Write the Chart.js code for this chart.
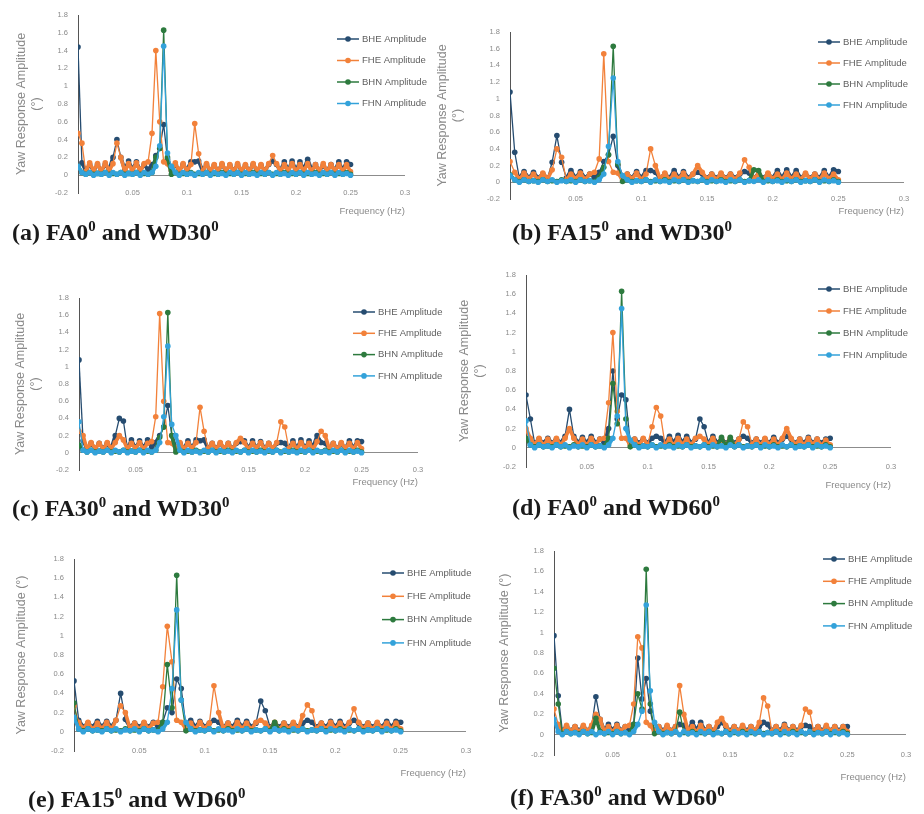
<!DOCTYPE html>
<html>
<head>
<meta charset="utf-8">
<title>Yaw response spectra</title>
<script src="https://cdn.jsdelivr.net/npm/chart.js@4.4.1/dist/chart.umd.min.js"></script>
<style>
  body { margin: 0; background: #fff; }
  #fig { position: relative; width: 924px; height: 814px; overflow: hidden; }
  #fig canvas { position: absolute; }
  .cap { position: absolute; font: bold 24px "Liberation Serif", "Times New Roman", serif; color: #1a1a1a; white-space: nowrap; line-height: 26px; }
  .cap sup { font-size: 62%; vertical-align: 0.6em; line-height: 0; }
</style>
</head>
<body>
<div id="fig">
  <canvas id="fa0-wd30" width="460" height="222" style="left:0;top:0"></canvas>
  <canvas id="fa15-wd30" width="499" height="222" style="left:425px;top:0"></canvas>
  <canvas id="fa30-wd30" width="460" height="250" style="left:0;top:250px"></canvas>
  <canvas id="fa0-wd60" width="484" height="250" style="left:440px;top:250px"></canvas>
  <canvas id="fa15-wd60" width="500" height="270" style="left:0;top:520px"></canvas>
  <canvas id="fa30-wd60" width="444" height="270" style="left:480px;top:520px"></canvas>

  <div class="cap" style="left:12px;top:219px">(a) FA0<sup>0</sup> and WD30<sup>0</sup></div>
  <div class="cap" style="left:512px;top:219px">(b) FA15<sup>0</sup> and WD30<sup>0</sup></div>
  <div class="cap" style="left:12px;top:495px">(c) FA30<sup>0</sup> and WD30<sup>0</sup></div>
  <div class="cap" style="left:512px;top:494px">(d) FA0<sup>0</sup> and WD60<sup>0</sup></div>
  <div class="cap" style="left:28px;top:786px">(e) FA15<sup>0</sup> and WD60<sup>0</sup></div>
  <div class="cap" style="left:510px;top:784px">(f) FA30<sup>0</sup> and WD60<sup>0</sup></div>
</div>
<script>
// frequency bins (Hz), shared by every spectrum
const freq = [
  0, 0.0036, 0.0071, 0.0107, 0.0143, 0.0179, 0.0214, 0.025, 0.0286, 0.0321,
  0.0357, 0.0393, 0.0429, 0.0464, 0.05, 0.0536, 0.0571, 0.0607, 0.0643, 0.0679,
  0.0714, 0.075, 0.0786, 0.0821, 0.0857, 0.0893, 0.0929, 0.0964, 0.1, 0.1036,
  0.1071, 0.1107, 0.1143, 0.1179, 0.1214, 0.125, 0.1286, 0.1321, 0.1357, 0.1393,
  0.1429, 0.1464, 0.15, 0.1536, 0.1571, 0.1607, 0.1643, 0.1679, 0.1714, 0.175,
  0.1786, 0.1821, 0.1857, 0.1893, 0.1929, 0.1964, 0.2, 0.2036, 0.2071, 0.2107,
  0.2143, 0.2179, 0.2214, 0.225, 0.2286, 0.2321, 0.2357, 0.2393, 0.2429, 0.2464,
  0.25
];

// (a) FA0 / WD30
const bheA = [
  1.44, 0.14, 0.05, 0.12, 0.05, 0.12, 0.05, 0.12, 0.06, 0.2,
  0.4, 0.2, 0.06, 0.16, 0.06, 0.15, 0.05, 0.12, 0.06, 0.12,
  0.22, 0.3, 0.57, 0.18, 0.05, 0.12, 0.05, 0.12, 0.06, 0.15,
  0.15, 0.16, 0.05, 0.12, 0.05, 0.11, 0.05, 0.12, 0.05, 0.11,
  0.05, 0.12, 0.05, 0.11, 0.05, 0.12, 0.05, 0.11, 0.05, 0.12,
  0.16, 0.12, 0.05, 0.15, 0.05, 0.16, 0.05, 0.15, 0.06, 0.18,
  0.06, 0.12, 0.05, 0.11, 0.05, 0.12, 0.05, 0.15, 0.05, 0.15,
  0.12
];
const fheA = [
  0.47, 0.36, 0.04, 0.14, 0.05, 0.13, 0.04, 0.14, 0.05, 0.13,
  0.36, 0.2, 0.04, 0.13, 0.05, 0.14, 0.04, 0.13, 0.15, 0.47,
  1.4, 0.6, 0.15, 0.13, 0.05, 0.14, 0.04, 0.13, 0.05, 0.12,
  0.58, 0.24, 0.04, 0.13, 0.05, 0.12, 0.04, 0.13, 0.05, 0.12,
  0.04, 0.13, 0.05, 0.12, 0.04, 0.13, 0.05, 0.12, 0.04, 0.13,
  0.22, 0.13, 0.04, 0.12, 0.05, 0.13, 0.04, 0.12, 0.05, 0.13,
  0.04, 0.12, 0.05, 0.13, 0.04, 0.12, 0.05, 0.12, 0.04, 0.12,
  0.04
];
const bhnA = [
  0.1, 0.03, 0.01, 0.03, 0.01, 0.02, 0.01, 0.03, 0.01, 0.02,
  0.01, 0.03, 0.01, 0.02, 0.01, 0.03, 0.01, 0.02, 0.01, 0.03,
  0.2, 0.3, 1.63, 0.2, 0.01, 0.03, 0.01, 0.02, 0.01, 0.03,
  0.01, 0.02, 0.01, 0.03, 0.01, 0.02, 0.01, 0.03, 0.01, 0.02,
  0.01, 0.03, 0.01, 0.02, 0.01, 0.03, 0.01, 0.02, 0.01, 0.03,
  0.01, 0.02, 0.01, 0.03, 0.01, 0.02, 0.01, 0.03, 0.01, 0.02,
  0.01, 0.03, 0.01, 0.02, 0.01, 0.03, 0.01, 0.02, 0.01, 0.03,
  0.01
];
const fhnA = [
  0.1, 0.03, 0.01, 0.03, 0, 0.02, 0.01, 0.03, 0, 0.03,
  0.01, 0.03, 0, 0.02, 0.01, 0.03, 0, 0.03, 0.01, 0.03,
  0.1, 0.33, 1.45, 0.25, 0.1, 0.03, 0, 0.03, 0.01, 0.02,
  0, 0.03, 0.01, 0.03, 0, 0.03, 0.01, 0.02, 0, 0.03,
  0.01, 0.03, 0, 0.03, 0.01, 0.02, 0, 0.03, 0.01, 0.03,
  0, 0.03, 0.01, 0.02, 0, 0.03, 0.01, 0.03, 0, 0.03,
  0.01, 0.02, 0, 0.03, 0.01, 0.03, 0, 0.03, 0.01, 0.02,
  0
];

// (b) FA15 / WD30
const bheB = [
  1.08, 0.36, 0.05, 0.13, 0.05, 0.12, 0.05, 0.1, 0.05, 0.24,
  0.56, 0.24, 0.05, 0.14, 0.05, 0.13, 0.05, 0.1, 0.06, 0.12,
  0.25, 0.33, 0.55, 0.2, 0.05, 0.1, 0.05, 0.13, 0.05, 0.14,
  0.14, 0.12, 0.05, 0.1, 0.05, 0.14, 0.05, 0.13, 0.05, 0.1,
  0.12, 0.1, 0.05, 0.1, 0.05, 0.1, 0.05, 0.1, 0.05, 0.1,
  0.13, 0.11, 0.05, 0.1, 0.05, 0.1, 0.05, 0.14, 0.05, 0.15,
  0.05, 0.14, 0.05, 0.1, 0.05, 0.1, 0.05, 0.14, 0.05, 0.15,
  0.13
];
const fheB = [
  0.25, 0.12, 0.03, 0.11, 0.04, 0.1, 0.03, 0.11, 0.04, 0.15,
  0.4, 0.3, 0.03, 0.1, 0.04, 0.11, 0.03, 0.1, 0.12, 0.28,
  1.54, 0.25, 0.12, 0.11, 0.03, 0.1, 0.04, 0.11, 0.03, 0.1,
  0.4, 0.2, 0.04, 0.11, 0.03, 0.1, 0.04, 0.11, 0.03, 0.1,
  0.2, 0.12, 0.04, 0.1, 0.03, 0.11, 0.04, 0.1, 0.03, 0.11,
  0.27, 0.18, 0.04, 0.1, 0.03, 0.11, 0.04, 0.1, 0.03, 0.11,
  0.04, 0.1, 0.03, 0.11, 0.04, 0.1, 0.03, 0.11, 0.04, 0.1,
  0.03
];
const bhnB = [
  0.09, 0.03, 0.01, 0.03, 0.01, 0.02, 0.01, 0.03, 0.01, 0.02,
  0.01, 0.03, 0.01, 0.02, 0.01, 0.03, 0.01, 0.02, 0.01, 0.06,
  0.18, 0.33, 1.63, 0.22, 0.01, 0.03, 0.01, 0.02, 0.01, 0.03,
  0.01, 0.02, 0.01, 0.03, 0.01, 0.02, 0.01, 0.03, 0.01, 0.02,
  0.01, 0.03, 0.01, 0.02, 0.01, 0.03, 0.01, 0.02, 0.01, 0.03,
  0.01, 0.02, 0.15, 0.14, 0.01, 0.02, 0.01, 0.03, 0.01, 0.02,
  0.01, 0.03, 0.01, 0.02, 0.01, 0.03, 0.01, 0.02, 0.01, 0.03,
  0.01
];
const fhnB = [
  0.08, 0.03, 0, 0.03, 0.01, 0.02, 0, 0.03, 0.01, 0.03,
  0, 0.02, 0.01, 0.03, 0, 0.03, 0.01, 0.02, 0, 0.03,
  0.1, 0.43, 1.25, 0.25, 0.08, 0.03, 0, 0.02, 0.01, 0.03,
  0, 0.03, 0.01, 0.02, 0, 0.03, 0.01, 0.03, 0, 0.02,
  0.01, 0.03, 0, 0.03, 0.01, 0.02, 0, 0.03, 0.01, 0.03,
  0, 0.02, 0.01, 0.03, 0, 0.03, 0.01, 0.02, 0, 0.03,
  0.01, 0.03, 0, 0.02, 0.01, 0.03, 0, 0.03, 0.01, 0.02,
  0
];

// (c) FA30 / WD30
const bheC = [
  1.08, 0.14, 0.05, 0.11, 0.05, 0.11, 0.05, 0.11, 0.05, 0.2,
  0.4, 0.37, 0.05, 0.15, 0.05, 0.14, 0.05, 0.15, 0.06, 0.12,
  0.2, 0.3, 0.55, 0.2, 0.05, 0.11, 0.05, 0.14, 0.05, 0.15,
  0.14, 0.15, 0.05, 0.11, 0.05, 0.11, 0.05, 0.11, 0.05, 0.11,
  0.13, 0.14, 0.05, 0.14, 0.05, 0.13, 0.05, 0.11, 0.05, 0.11,
  0.12, 0.11, 0.05, 0.14, 0.05, 0.15, 0.05, 0.14, 0.06, 0.2,
  0.12, 0.11, 0.05, 0.11, 0.05, 0.11, 0.05, 0.14, 0.05, 0.14,
  0.13
];
const fheC = [
  0.25, 0.2, 0.04, 0.12, 0.05, 0.11, 0.04, 0.12, 0.05, 0.12,
  0.2, 0.15, 0.04, 0.11, 0.05, 0.12, 0.04, 0.11, 0.13, 0.42,
  1.62, 0.6, 0.12, 0.11, 0.05, 0.12, 0.04, 0.11, 0.05, 0.12,
  0.53, 0.25, 0.05, 0.11, 0.04, 0.12, 0.05, 0.11, 0.04, 0.12,
  0.17, 0.12, 0.04, 0.11, 0.05, 0.12, 0.04, 0.11, 0.05, 0.12,
  0.36, 0.3, 0.05, 0.11, 0.04, 0.12, 0.05, 0.11, 0.04, 0.13,
  0.25, 0.2, 0.05, 0.11, 0.04, 0.12, 0.05, 0.11, 0.04, 0.12,
  0.05
];
const bhnC = [
  0.09, 0.03, 0.01, 0.03, 0.01, 0.02, 0.01, 0.03, 0.01, 0.02,
  0.01, 0.03, 0.01, 0.02, 0.01, 0.03, 0.01, 0.02, 0.01, 0.03,
  0.18, 0.3, 1.63, 0.2, 0.01, 0.03, 0.01, 0.02, 0.01, 0.03,
  0.01, 0.02, 0.01, 0.03, 0.01, 0.02, 0.01, 0.03, 0.01, 0.02,
  0.01, 0.03, 0.01, 0.02, 0.01, 0.03, 0.01, 0.02, 0.01, 0.03,
  0.01, 0.02, 0.01, 0.03, 0.01, 0.02, 0.01, 0.03, 0.01, 0.02,
  0.01, 0.03, 0.01, 0.02, 0.01, 0.03, 0.01, 0.02, 0.01, 0.03,
  0.01
];
const fhnC = [
  0.36, 0.03, 0.01, 0.03, 0, 0.02, 0.01, 0.03, 0, 0.03,
  0.01, 0.03, 0, 0.02, 0.01, 0.03, 0, 0.03, 0.01, 0.03,
  0.12, 0.42, 1.24, 0.33, 0.2, 0.03, 0, 0.03, 0.01, 0.02,
  0, 0.03, 0.01, 0.03, 0, 0.03, 0.01, 0.02, 0, 0.03,
  0.01, 0.03, 0, 0.03, 0.01, 0.02, 0, 0.03, 0.01, 0.03,
  0, 0.03, 0.01, 0.02, 0, 0.03, 0.01, 0.03, 0, 0.03,
  0.01, 0.02, 0, 0.03, 0.01, 0.03, 0, 0.03, 0.01, 0.02,
  0
];

// (d) FA0 / WD60
const bheD = [
  0.55, 0.3, 0.05, 0.09, 0.05, 0.1, 0.05, 0.09, 0.05, 0.12,
  0.4, 0.12, 0.05, 0.11, 0.05, 0.12, 0.05, 0.09, 0.05, 0.2,
  0.8, 0.3, 0.55, 0.5, 0.05, 0.09, 0.05, 0.09, 0.05, 0.1,
  0.12, 0.1, 0.05, 0.12, 0.05, 0.13, 0.05, 0.12, 0.05, 0.09,
  0.3, 0.22, 0.05, 0.12, 0.05, 0.09, 0.05, 0.09, 0.05, 0.09,
  0.12, 0.1, 0.05, 0.09, 0.05, 0.09, 0.05, 0.11, 0.05, 0.09,
  0.12, 0.09, 0.05, 0.09, 0.05, 0.11, 0.05, 0.09, 0.05, 0.09,
  0.1
];
const fheD = [
  0.2, 0.1, 0.03, 0.1, 0.02, 0.09, 0.03, 0.1, 0.02, 0.1,
  0.2, 0.1, 0.03, 0.09, 0.02, 0.1, 0.03, 0.09, 0.1, 0.47,
  1.2, 0.38, 0.1, 0.1, 0.03, 0.09, 0.02, 0.1, 0.03, 0.22,
  0.42, 0.33, 0.03, 0.09, 0.02, 0.1, 0.03, 0.09, 0.02, 0.1,
  0.12, 0.09, 0.03, 0.1, 0.02, 0.09, 0.03, 0.1, 0.02, 0.09,
  0.27, 0.22, 0.03, 0.09, 0.02, 0.1, 0.03, 0.09, 0.02, 0.1,
  0.2, 0.1, 0.03, 0.09, 0.02, 0.1, 0.03, 0.09, 0.02, 0.08,
  0.03
];
const bhnD = [
  0.1, 0.03, 0.01, 0.03, 0.01, 0.02, 0.01, 0.03, 0.01, 0.02,
  0.01, 0.03, 0.01, 0.02, 0.01, 0.03, 0.01, 0.02, 0.01, 0.1,
  0.67, 0.25, 1.63, 0.3, 0.01, 0.03, 0.01, 0.02, 0.01, 0.03,
  0.01, 0.02, 0.01, 0.03, 0.01, 0.02, 0.01, 0.03, 0.01, 0.02,
  0.01, 0.03, 0.01, 0.02, 0.01, 0.11, 0.01, 0.11, 0.01, 0.03,
  0.01, 0.02, 0.01, 0.03, 0.01, 0.02, 0.01, 0.03, 0.01, 0.02,
  0.01, 0.03, 0.01, 0.02, 0.01, 0.03, 0.01, 0.02, 0.01, 0.03,
  0.01
];
const fhnD = [
  0.28, 0.03, 0, 0.03, 0.01, 0.02, 0, 0.03, 0.01, 0.03,
  0, 0.02, 0.01, 0.03, 0, 0.03, 0.01, 0.02, 0, 0.03,
  0.1, 0.33, 1.45, 0.2, 0.08, 0.03, 0, 0.02, 0.01, 0.03,
  0, 0.03, 0.01, 0.02, 0, 0.03, 0.01, 0.03, 0, 0.02,
  0.01, 0.03, 0, 0.03, 0.01, 0.02, 0, 0.03, 0.01, 0.03,
  0, 0.02, 0.01, 0.03, 0, 0.03, 0.01, 0.02, 0, 0.03,
  0.01, 0.03, 0, 0.02, 0.01, 0.03, 0, 0.03, 0.01, 0.02,
  0
];

// (e) FA15 / WD60
const bheE = [
  0.53, 0.12, 0.05, 0.09, 0.05, 0.11, 0.05, 0.11, 0.05, 0.12,
  0.4, 0.13, 0.05, 0.09, 0.05, 0.09, 0.05, 0.1, 0.05, 0.1,
  0.25, 0.2, 0.55, 0.45, 0.05, 0.12, 0.05, 0.11, 0.05, 0.09,
  0.12, 0.1, 0.05, 0.09, 0.05, 0.12, 0.05, 0.11, 0.05, 0.09,
  0.32, 0.22, 0.05, 0.09, 0.05, 0.09, 0.05, 0.09, 0.05, 0.09,
  0.12, 0.1, 0.05, 0.09, 0.05, 0.11, 0.05, 0.11, 0.05, 0.09,
  0.12, 0.09, 0.05, 0.09, 0.05, 0.09, 0.05, 0.11, 0.05, 0.11,
  0.1
];
const fheE = [
  0.27, 0.1, 0.03, 0.1, 0.02, 0.09, 0.03, 0.1, 0.02, 0.12,
  0.27, 0.2, 0.03, 0.09, 0.02, 0.1, 0.03, 0.09, 0.1, 0.47,
  1.1, 0.73, 0.12, 0.1, 0.03, 0.09, 0.02, 0.1, 0.03, 0.09,
  0.48, 0.2, 0.03, 0.09, 0.02, 0.1, 0.03, 0.09, 0.02, 0.1,
  0.12, 0.09, 0.03, 0.1, 0.02, 0.09, 0.03, 0.1, 0.02, 0.17,
  0.28, 0.22, 0.03, 0.09, 0.02, 0.1, 0.03, 0.09, 0.02, 0.1,
  0.24, 0.1, 0.03, 0.09, 0.02, 0.1, 0.03, 0.09, 0.02, 0.09,
  0.03
];
const bhnE = [
  0.3, 0.03, 0.01, 0.03, 0.01, 0.02, 0.01, 0.03, 0.01, 0.02,
  0.01, 0.03, 0.01, 0.02, 0.01, 0.03, 0.01, 0.02, 0.01, 0.1,
  0.7, 0.25, 1.63, 0.33, 0.01, 0.03, 0.01, 0.02, 0.01, 0.03,
  0.01, 0.02, 0.01, 0.03, 0.01, 0.02, 0.01, 0.03, 0.01, 0.02,
  0.01, 0.03, 0.01, 0.1, 0.01, 0.03, 0.01, 0.02, 0.01, 0.03,
  0.01, 0.02, 0.01, 0.03, 0.01, 0.02, 0.01, 0.03, 0.01, 0.02,
  0.01, 0.03, 0.01, 0.02, 0.01, 0.03, 0.01, 0.02, 0.01, 0.03,
  0.01
];
const fhnE = [
  0.15, 0.03, 0, 0.03, 0.01, 0.02, 0, 0.03, 0.01, 0.03,
  0, 0.02, 0.01, 0.03, 0, 0.03, 0.01, 0.02, 0, 0.03,
  0.1, 0.45, 1.27, 0.33, 0.1, 0.03, 0, 0.02, 0.01, 0.03,
  0, 0.03, 0.01, 0.02, 0, 0.03, 0.01, 0.03, 0, 0.02,
  0.01, 0.03, 0, 0.03, 0.01, 0.02, 0, 0.03, 0.01, 0.03,
  0, 0.02, 0.01, 0.03, 0, 0.03, 0.01, 0.02, 0, 0.03,
  0.01, 0.03, 0, 0.02, 0.01, 0.03, 0, 0.03, 0.01, 0.02,
  0
];

// (f) FA30 / WD60
const bheF = [
  0.97, 0.38, 0.04, 0.08, 0.04, 0.08, 0.04, 0.08, 0.04, 0.08,
  0.37, 0.15, 0.04, 0.1, 0.04, 0.1, 0.04, 0.08, 0.04, 0.1,
  0.75, 0.35, 0.55, 0.23, 0.04, 0.08, 0.04, 0.08, 0.04, 0.08,
  0.1, 0.09, 0.04, 0.12, 0.04, 0.12, 0.04, 0.08, 0.04, 0.08,
  0.12, 0.08, 0.04, 0.08, 0.04, 0.08, 0.04, 0.08, 0.04, 0.08,
  0.12, 0.1, 0.04, 0.08, 0.04, 0.1, 0.04, 0.08, 0.04, 0.08,
  0.09, 0.08, 0.04, 0.08, 0.04, 0.08, 0.04, 0.08, 0.04, 0.08,
  0.08
];
const fheF = [
  0.25, 0.1, 0.02, 0.09, 0.03, 0.08, 0.02, 0.09, 0.03, 0.09,
  0.2, 0.15, 0.03, 0.08, 0.02, 0.09, 0.03, 0.08, 0.09, 0.3,
  0.96, 0.85, 0.12, 0.09, 0.03, 0.08, 0.02, 0.09, 0.03, 0.08,
  0.48, 0.2, 0.03, 0.08, 0.02, 0.09, 0.03, 0.08, 0.02, 0.12,
  0.16, 0.09, 0.02, 0.08, 0.03, 0.09, 0.02, 0.08, 0.03, 0.12,
  0.36, 0.28, 0.03, 0.08, 0.02, 0.09, 0.03, 0.08, 0.02, 0.09,
  0.25, 0.22, 0.03, 0.08, 0.02, 0.09, 0.03, 0.08, 0.02, 0.08,
  0.03
];
const bhnF = [
  0.65, 0.3, 0.01, 0.03, 0.01, 0.02, 0.01, 0.03, 0.01, 0.02,
  0.16, 0.03, 0.01, 0.02, 0.01, 0.03, 0.01, 0.02, 0.01, 0.1,
  0.4, 0.25, 1.62, 0.3, 0.01, 0.03, 0.01, 0.02, 0.01, 0.03,
  0.22, 0.02, 0.01, 0.03, 0.01, 0.02, 0.01, 0.03, 0.01, 0.02,
  0.01, 0.03, 0.01, 0.02, 0.01, 0.03, 0.01, 0.02, 0.01, 0.03,
  0.01, 0.02, 0.01, 0.03, 0.01, 0.02, 0.01, 0.03, 0.01, 0.02,
  0.01, 0.03, 0.01, 0.02, 0.01, 0.03, 0.01, 0.02, 0.01, 0.03,
  0.01
];
const fhnF = [
  0.15, 0.03, 0, 0.03, 0.01, 0.02, 0, 0.03, 0.01, 0.03,
  0, 0.02, 0.01, 0.03, 0, 0.03, 0.01, 0.02, 0, 0.03,
  0.1, 0.23, 1.27, 0.43, 0.12, 0.03, 0, 0.02, 0.01, 0.03,
  0, 0.03, 0.01, 0.02, 0, 0.03, 0.01, 0.03, 0, 0.02,
  0.01, 0.03, 0, 0.03, 0.01, 0.02, 0, 0.03, 0.01, 0.03,
  0, 0.02, 0.01, 0.03, 0, 0.03, 0.01, 0.02, 0, 0.03,
  0.01, 0.03, 0, 0.02, 0.01, 0.03, 0, 0.03, 0.01, 0.02,
  0
];

const seriesNames = ['BHE Amplitude', 'FHE Amplitude', 'BHN Amplitude', 'FHN Amplitude'];
const seriesColors = ['#264C70', '#F2813A', '#2D7A3E', '#33A2DA'];
const axisFont = 'Liberation Sans';
const grey = '#8a8a8a';

// legend laid over the empty top-right of the plot, Excel style
const sideLegend = {
  id: 'sideLegend',
  afterDraw(chart, args, opts) {
    const ctx = chart.ctx;
    ctx.save();
    ctx.font = '9.5px "' + axisFont + '"';
    ctx.textBaseline = 'middle';
    chart.data.datasets.forEach((ds, i) => {
      const y = opts.y + i * opts.gap;
      ctx.strokeStyle = ds.borderColor;
      ctx.lineWidth = 1.5;
      ctx.beginPath();
      ctx.moveTo(opts.x, y);
      ctx.lineTo(opts.x + 22, y);
      ctx.stroke();
      ctx.fillStyle = ds.borderColor;
      ctx.beginPath();
      ctx.arc(opts.x + 11, y, 2.8, 0, Math.PI * 2);
      ctx.fill();
      ctx.fillStyle = '#606060';
      ctx.fillText(ds.label, opts.x + 25, y);
    });
    ctx.restore();
  }
};

// the noise floor is packed so tight it reads as a solid band; the spikes stay thin
const segWidth = c => Math.max(c.p0.parsed.y, c.p1.parsed.y) > 0.2 ? 1.3 : 3.6;

function makePanel(id, series, lay) {
  return new Chart(document.getElementById(id), {
    type: 'line',
    data: {
      datasets: series.map((vals, i) => ({
        label: seriesNames[i],
        data: vals.map((v, k) => ({ x: freq[k], y: v })),
        borderColor: seriesColors[i],
        backgroundColor: seriesColors[i],
        borderWidth: 1.3,
        borderJoinStyle: 'bevel',
        segment: { borderWidth: segWidth },
        pointRadius: 2.8,
        pointBorderWidth: 0,
        pointHoverRadius: 2.8,
        tension: 0,
        // later series sit on top, FHN last
        order: 4 - i
      }))
    },
    options: {
      responsive: false,
      animation: false,
      events: [],
      layout: { padding: lay.pad },
      plugins: {
        legend: { display: false },
        tooltip: { enabled: false },
        sideLegend: lay.legend
      },
      scales: {
        x: {
          type: 'linear',
          min: 0,
          max: 0.3,
          afterFit: s => { s.height = lay.xh; },
          border: { display: false },
          grid: { display: false, drawTicks: false },
          ticks: {
            stepSize: 0.05,
            // labels sit level with the -0.2 row, Excel "low" placement
            mirror: true,
            padding: -4.5,
            maxRotation: 0,
            autoSkip: false,
            color: grey,
            font: { family: axisFont, size: 7.5 },
            callback: v => v === 0 ? '' : String(+v.toFixed(2))
          },
          title: {
            display: true,
            text: 'Frequency (Hz)',
            align: 'end',
            padding: 0,
            color: grey,
            font: { family: axisFont, size: 9.5 }
          }
        },
        y: {
          min: -0.2,
          max: 1.8,
          afterFit: s => { s.width = lay.yw; },
          border: { color: '#555555', width: 1 },
          grid: {
            drawTicks: false,
            color: c => c.tick && c.tick.value === 0 ? '#8c8c8c' : 'rgba(0,0,0,0)'
          },
          ticks: {
            stepSize: 0.2,
            padding: 10,
            color: grey,
            font: { family: axisFont, size: 7.5 },
            callback: v => String(+v.toFixed(1))
          },
          title: {
            display: true,
            text: lay.ytitle,
            padding: { top: lay.ytpad, bottom: 0 },
            color: grey,
            font: { family: axisFont, size: 12.5 }
          }
        }
      }
    },
    plugins: [sideLegend]
  });
}

const twoLine = ['Yaw Response Amplitude', '(°)'];
const oneLine = 'Yaw Response Amplitude (°)';

makePanel('fa0-wd30', [bheA, fheA, bhnA, fhnA], {
  pad: { left: 0, right: 55, top: 15, bottom: 5 }, yw: 78, xh: 24,
  ytitle: twoLine, ytpad: 14.5, legend: { x: 337, y: 39, gap: 21.5 }
});
makePanel('fa15-wd30', [bheB, fheB, bhnB, fhnB], {
  pad: { left: 0, right: 20, top: 32, bottom: 5 }, yw: 85, xh: 18,
  ytitle: twoLine, ytpad: 10.5, legend: { x: 393, y: 42, gap: 21 }
});
makePanel('fa30-wd30', [bheC, fheC, bhnC, fhnC], {
  pad: { left: 0, right: 42, top: 48, bottom: 12 }, yw: 79, xh: 18,
  ytitle: twoLine, ytpad: 13.5, legend: { x: 353, y: 62, gap: 21.3 }
});
makePanel('fa0-wd60', [bheD, fheD, bhnD, fhnD], {
  pad: { left: 0, right: 33, top: 25, bottom: 9 }, yw: 86, xh: 24,
  ytitle: twoLine, ytpad: 17.5, legend: { x: 378, y: 39, gap: 22 }
});
makePanel('fa15-wd60', [bheE, fheE, bhnE, fhnE], {
  pad: { left: 0, right: 34, top: 39, bottom: 11 }, yw: 74, xh: 28,
  ytitle: oneLine, ytpad: 14.5, legend: { x: 382, y: 53, gap: 23.3 }
});
makePanel('fa30-wd60', [bheF, fheF, bhnF, fhnF], {
  pad: { left: 0, right: 18, top: 31, bottom: 7 }, yw: 74, xh: 28,
  ytitle: oneLine, ytpad: 17.5, legend: { x: 343, y: 39, gap: 22.3 }
});
</script>
</body>
</html>
